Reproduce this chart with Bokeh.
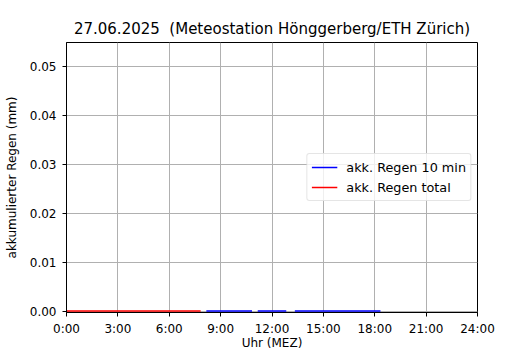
from bokeh.plotting import figure
from bokeh.models import FixedTicker, Range1d, Legend, LegendItem, NumeralTickFormatter
from bokeh.embed import file_html
from bokeh.resources import INLINE

# Data (hours of day, accumulated rain in mm)
title_text = "27.06.2025\u00a0 (Meteostation Hönggerberg/ETH Zürich)"
blue_starts = [8 + 10/60, 11 + 10/60, 13 + 20/60]
blue_ends = [10 + 50/60, 12 + 50/60, 18 + 20/60]
blue_values = [0.0, 0.0, 0.0]
red_times = [0.0, 7 + 50/60]
red_values = [0.0, 0.0]
x_ticks = [0, 3, 6, 9, 12, 15, 18, 21, 24]
x_tick_labels = ["0:00", "3:00", "6:00", "9:00", "12:00", "15:00", "18:00", "21:00", "24:00"]
y_ticks = [0.0, 0.01, 0.02, 0.03, 0.04, 0.05]

FONT = "DejaVu Sans"

p = figure(width=530, height=352, output_backend="svg", toolbar_location=None,
           x_range=Range1d(0, 24), y_range=Range1d(-0.0003, 0.0549),
           min_border_left=66, min_border_right=53, min_border_top=42, min_border_bottom=30)

p.title.text = title_text
p.title.align = "center"
p.title.text_font = FONT
p.title.text_font_size = "15px"
p.title.text_font_style = "normal"
p.title.text_color = "black"

p.outline_line_color = "black"
p.outline_line_width = 1
p.background_fill_color = "white"
p.border_fill_color = "white"

for ax in (p.xaxis[0], p.yaxis[0]):
    ax.major_label_text_font = FONT
    ax.major_label_text_font_size = "12px"
    ax.major_label_text_color = "black"
    ax.axis_label_text_font = FONT
    ax.axis_label_text_font_size = "12px"
    ax.axis_label_text_font_style = "normal"
    ax.axis_label_text_color = "black"
    ax.major_tick_out = 4
    ax.major_tick_in = 0
    ax.minor_tick_out = 0
    ax.minor_tick_in = 0
    ax.axis_line_color = "black"
    ax.major_tick_line_color = "black"

p.xaxis.major_label_standoff = 5
p.xaxis.axis_label_standoff = -3
p.yaxis.major_label_standoff = 6
p.yaxis.axis_label_standoff = 8

p.xaxis.ticker = FixedTicker(ticks=x_ticks)
p.xaxis.major_label_overrides = {t: l for t, l in zip(x_ticks, x_tick_labels)}
p.xaxis.axis_label = "Uhr (MEZ)"
p.yaxis.ticker = FixedTicker(ticks=y_ticks)
p.yaxis.formatter = NumeralTickFormatter(format="0.00")
p.yaxis.axis_label = "akkumulierter Regen (mm)"

p.grid.grid_line_color = "#b0b0b0"
p.grid.grid_line_width = 1

blue = p.multi_line(xs=[[s, e] for s, e in zip(blue_starts, blue_ends)],
                    ys=[[v, v] for v in blue_values], line_color="blue", line_width=1.5)
red = p.line(red_times, red_values, line_color="red", line_width=1.5)

legend = Legend(items=[LegendItem(label="akk. Regen 10 min", renderers=[blue]),
                       LegendItem(label="akk. Regen total", renderers=[red])],
                location="center_right")
legend.label_text_font = FONT
legend.label_text_font_size = "12.8px"
legend.label_text_color = "black"
legend.glyph_width = 26
legend.glyph_height = 18
legend.label_height = 18
legend.spacing = 2
legend.padding = 4
legend.margin = 6
legend.label_standoff = 9
legend.border_line_color = "#cccccc"
legend.border_line_width = 1
legend.border_radius = 3
legend.background_fill_color = "white"
legend.background_fill_alpha = 0.8
p.add_layout(legend, "center")

open("out.html", "w").write(file_html(p, INLINE))
